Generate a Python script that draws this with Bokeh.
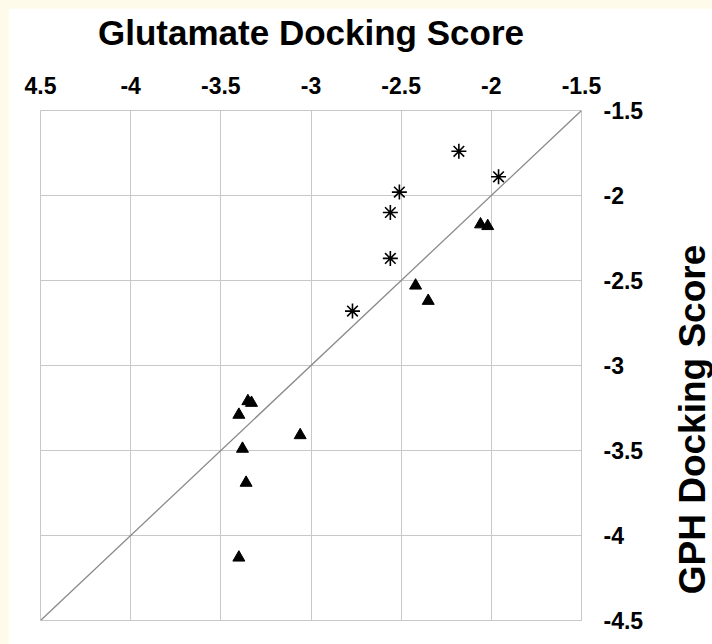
import re
from bokeh.plotting import figure
from bokeh.models import FixedTicker, Label, Slope, Range1d
from bokeh.embed import file_html
from bokeh.resources import INLINE

# ---- data ----
asterisk_x = [-2.18, -1.96, -2.51, -2.56, -2.56, -2.77]
asterisk_y = [-1.74, -1.89, -1.98, -2.10, -2.37, -2.68]

triangle_x = [-2.06, -2.02, -2.42, -2.35, -3.35, -3.33, -3.40, -3.06, -3.38, -3.36, -3.40]
triangle_y = [-2.17, -2.18, -2.53, -2.62, -3.21, -3.22, -3.29, -3.41, -3.49, -3.69, -4.13]

x_ticks = [-4.5, -4.0, -3.5, -3.0, -2.5, -2.0, -1.5]
x_tick_labels = ["4.5", "-4", "-3.5", "-3", "-2.5", "-2", "-1.5"]
y_ticks = [-4.5, -4.0, -3.5, -3.0, -2.5, -2.0, -1.5]
y_tick_labels = ["-4.5", "-4", "-3.5", "-3", "-2.5", "-2", "-1.5"]

x_title = "Glutamate Docking Score"
y_title = "GPH Docking Score"

FONT = "Liberation Sans"
GRID = "#c8c8c8"

p = figure(
    frame_width=541, frame_height=510,
    min_border_left=32, min_border_right=131, min_border_top=102, min_border_bottom=24,
    x_range=Range1d(-4.5, -1.5), y_range=Range1d(-4.5, -1.5),
    x_axis_location="above", y_axis_location="right",
    output_backend="svg", toolbar_location=None,
)
p.background_fill_color = "white"
p.border_fill_color = "white"
p.outline_line_color = GRID
p.outline_line_width = 1

for ax, ticks, labels, standoff in ((p.xaxis[0], x_ticks, x_tick_labels, 17),
                                    (p.yaxis[0], y_ticks, y_tick_labels, 22)):
    ax.ticker = FixedTicker(ticks=ticks)
    ax.major_label_overrides = {t: l for t, l in zip(ticks, labels)}
    ax.major_label_text_font = FONT
    ax.major_label_text_font_style = "bold"
    ax.major_label_text_font_size = "23px"
    ax.major_label_text_color = "black"
    ax.major_label_standoff = standoff
    ax.axis_line_color = None
    ax.major_tick_line_color = None
    ax.minor_tick_line_color = None
    ax.major_tick_out = 0
    ax.major_tick_in = 0

xa = p.xaxis[0]
xa.axis_label = x_title
xa.axis_label_text_font = FONT
xa.axis_label_text_font_style = "bold"
xa.axis_label_text_font_size = "35px"
xa.axis_label_text_color = "black"
xa.axis_label_standoff = 22

p.xgrid.ticker = FixedTicker(ticks=x_ticks)
p.ygrid.ticker = FixedTicker(ticks=y_ticks)
p.grid.grid_line_color = GRID
p.grid.grid_line_width = 1

# identity (y = x) reference line
p.add_layout(Slope(gradient=1, y_intercept=0, line_color="#8a8a8a", line_width=1.3))

p.scatter(asterisk_x, asterisk_y, marker="asterisk", size=15, line_color="black", line_width=1.6)
p.scatter(triangle_x, triangle_y, marker="triangle", size=12, fill_color="black", line_color="black")

# vertical title reading bottom-to-top, placed in the right side panel (not clipped)
p.add_layout(Label(x=46, y=201, x_units="screen", y_units="screen", text=y_title, angle=1.5708,
                   text_font=FONT, text_font_style="bold", text_font_size="37px",
                   text_align="center", text_baseline="alphabetic", text_color="black"), "right")

html = file_html(p, INLINE)
css = ("<style>html, body { background-color: #fffbea !important; }"
       " body { padding: 8px 0 0 8px !important; margin: 0 !important; }</style>")
html = re.sub(r"</head>", css + "</head>", html, count=1)
open("out.html", "w").write(html)
